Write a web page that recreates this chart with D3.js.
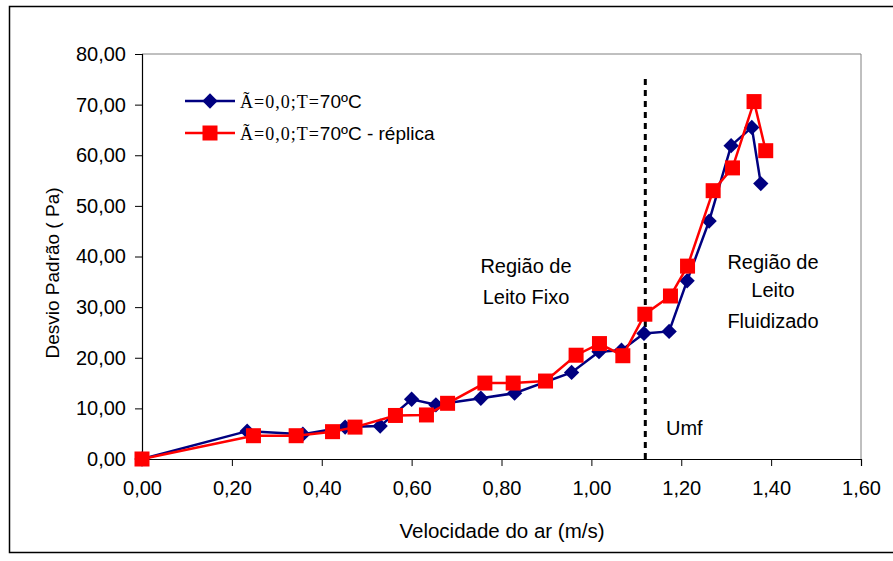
<!DOCTYPE html>
<html>
<head>
<meta charset="utf-8">
<script src="https://cdn.jsdelivr.net/npm/d3@7"></script>
<style>
  html, body { margin: 0; padding: 0; background: #fff; }
  svg { display: block; }
  text { font-family: "Liberation Sans", Arial, sans-serif; fill: #000; }
</style>
</head>
<body>
<svg id="chart" width="893" height="561"></svg>
<script>
// Air velocity (m/s) and pressure standard deviation (Pa), run 1
const velRun1 = [0.00, 0.234, 0.358, 0.452, 0.530, 0.600, 0.654, 0.754, 0.829, 0.956, 1.017, 1.067, 1.117, 1.173, 1.213, 1.262, 1.311, 1.357, 1.377];
const sdRun1  = [0.00, 5.50, 4.90, 6.30, 6.50, 11.80, 10.70, 12.00, 13.00, 17.10, 21.20, 21.50, 24.80, 25.20, 35.20, 47.00, 61.90, 65.50, 54.40];

// Replicate run
const velRun2 = [0.00, 0.248, 0.343, 0.424, 0.474, 0.564, 0.633, 0.680, 0.763, 0.826, 0.898, 0.966, 1.018, 1.070, 1.119, 1.176, 1.214, 1.271, 1.314, 1.362, 1.388];
const sdRun2  = [0.00, 4.60, 4.60, 5.40, 6.30, 8.60, 8.70, 11.00, 15.00, 15.00, 15.40, 20.50, 22.80, 20.40, 28.60, 32.20, 38.10, 53.00, 57.50, 70.60, 60.90];

// Minimum fluidization velocity
const umf = 1.12;

const xTicks = [0, 0.2, 0.4, 0.6, 0.8, 1.0, 1.2, 1.4, 1.6];
const yTicks = [0, 10, 20, 30, 40, 50, 60, 70, 80];

const seriesNames = ["Ã=0,0;T=", "Ã=0,0;T="];
const seriesSuffix = ["70ºC", "70ºC - réplica"];

const fmt = v => v.toFixed(2).replace(".", ",");

const svg = d3.select("#chart");

// outer chart frame
svg.append("rect")
  .attr("x", 9.5).attr("y", 6.5)
  .attr("width", 893).attr("height", 546)
  .attr("fill", "none").attr("stroke", "#000").attr("stroke-width", 1.5);

const x = d3.scaleLinear().domain([0, 1.6]).range([142, 861]);
const y = d3.scaleLinear().domain([0, 80]).range([459, 54]);

// plot area border (top/right)
svg.append("path")
  .attr("d", `M${x(0)},${y(80)}H${x(1.6)}V${y(0)}`)
  .attr("fill", "none").attr("stroke", "#808080").attr("stroke-width", 1);

// axes
const xAxis = d3.axisBottom(x).tickValues(xTicks).tickFormat(fmt).tickSize(7).tickPadding(15);
const yAxis = d3.axisLeft(y).tickValues(yTicks).tickFormat(fmt).tickSize(7).tickPadding(9);

const gx = svg.append("g").attr("transform", `translate(0,${y(0)})`).call(xAxis);
const gy = svg.append("g").attr("transform", `translate(${x(0)},0)`).call(yAxis);

[gx, gy].forEach(g => {
  g.select(".domain").attr("stroke", "#000").attr("stroke-width", 1.2);
  g.selectAll(".tick line").attr("stroke", "#000").attr("stroke-width", 1);
  g.selectAll(".tick text")
    .style("font-family", "'Liberation Sans', Arial, sans-serif")
    .style("font-size", "20px")
    .attr("fill", "#000");
});

// axis titles
svg.append("text")
  .attr("x", 502).attr("y", 538)
  .attr("text-anchor", "middle")
  .style("font-size", "20.5px")
  .text("Velocidade do ar (m/s)");

svg.append("text")
  .attr("transform", `translate(59,273) rotate(-90)`)
  .attr("text-anchor", "middle")
  .style("font-size", "19px")
  .text("Desvio Padrão ( Pa)");

// Umf dashed marker
svg.append("line")
  .attr("x1", x(umf)).attr("x2", x(umf))
  .attr("y1", y(0)).attr("y2", y(75.5))
  .attr("stroke", "#000").attr("stroke-width", 3)
  .attr("stroke-dasharray", "6,5");

svg.append("text")
  .attr("x", 666).attr("y", 435)
  .style("font-size", "20px")
  .text("Umf");

// region labels
const fixo = svg.append("text").attr("text-anchor", "middle").style("font-size", "20px");
fixo.append("tspan").attr("x", 526).attr("y", 273).text("Região de");
fixo.append("tspan").attr("x", 526).attr("y", 304).text("Leito Fixo");

const flu = svg.append("text").attr("text-anchor", "middle").style("font-size", "20px");
flu.append("tspan").attr("x", 773).attr("y", 269).text("Região de");
flu.append("tspan").attr("x", 773).attr("y", 297).text("Leito");
flu.append("tspan").attr("x", 773).attr("y", 328).text("Fluidizado");

// series
const line = d3.line().x(d => x(d[0])).y(d => y(d[1]));
const run1 = velRun1.map((v, i) => [v, sdRun1[i]]);
const run2 = velRun2.map((v, i) => [v, sdRun2[i]]);

const blue = "#000080", red = "#FF0000";

svg.append("path").datum(run1)
  .attr("d", line).attr("fill", "none")
  .attr("stroke", blue).attr("stroke-width", 2.5);

svg.append("g").selectAll("path").data(run1).join("path")
  .attr("d", d3.symbol(d3.symbolDiamond2, 150))
  .attr("transform", d => `translate(${x(d[0])},${y(d[1])})`)
  .attr("fill", blue);

svg.append("path").datum(run2)
  .attr("d", line).attr("fill", "none")
  .attr("stroke", red).attr("stroke-width", 2.5);

svg.append("g").selectAll("rect").data(run2).join("rect")
  .attr("x", d => x(d[0]) - 7.5).attr("y", d => y(d[1]) - 7.5)
  .attr("width", 15).attr("height", 15)
  .attr("fill", red);

// legend
const legend = svg.append("g");
const legY = [101, 133];
[blue, red].forEach((c, i) => {
  legend.append("line")
    .attr("x1", 185).attr("x2", 235).attr("y1", legY[i]).attr("y2", legY[i])
    .attr("stroke", c).attr("stroke-width", 2.5);
  if (i === 0) {
    legend.append("path")
      .attr("d", d3.symbol(d3.symbolDiamond2, 150))
      .attr("transform", `translate(210,${legY[i]})`)
      .attr("fill", c);
  } else {
    legend.append("rect")
      .attr("x", 202.5).attr("y", legY[i] - 7.5).attr("width", 15).attr("height", 15)
      .attr("fill", c);
  }
  const t = legend.append("text").attr("x", 240).attr("y", legY[i] + 7).style("font-size", "19px");
  t.append("tspan")
    .style("font-family", "'Liberation Serif', 'DejaVu Serif', serif")
    .style("font-size", "18px")
    .style("letter-spacing", "1px")
    .text(seriesNames[i]);
  t.append("tspan").style("letter-spacing", "0px").text(seriesSuffix[i]);
});
</script>
</body>
</html>
